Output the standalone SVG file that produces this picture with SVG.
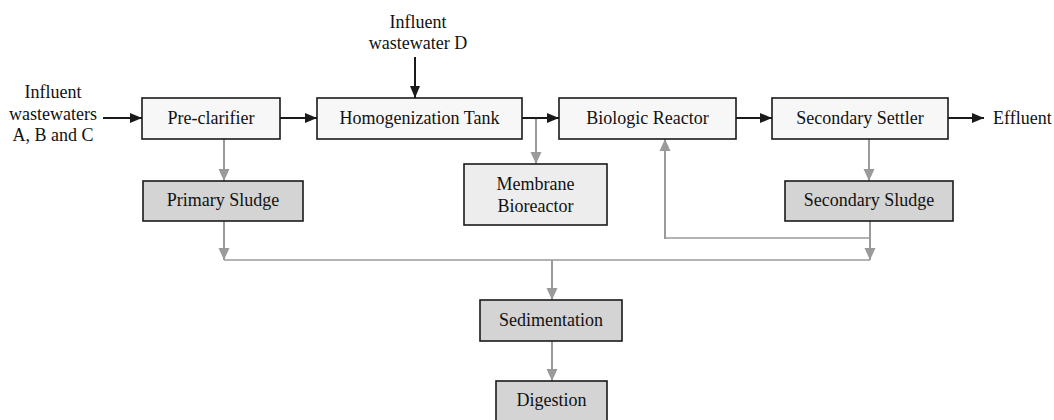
<svg xmlns="http://www.w3.org/2000/svg" width="1054" height="420" viewBox="0 0 1054 420">
<style>
text{font-family:"Liberation Serif","Times New Roman",serif;font-size:18px;fill:#111;text-anchor:middle}
.box{stroke:#1a1a1a;stroke-width:1.6}
.w{fill:#f7f7f7}
.g{fill:#d4d4d4}
.m{fill:#ededed}
.k{stroke:#1a1a1a;stroke-width:2;fill:none}
.gr{stroke:#9a9a9a;stroke-width:2;fill:none}
.grh{stroke:#9a9a9a;stroke-width:1.5;fill:none}
</style>
<defs>
<marker id="ak" markerWidth="12" markerHeight="12" refX="12" refY="6" orient="auto" markerUnits="userSpaceOnUse" viewBox="0 0 12 12"><path d="M0,1 L12,6 L0,11 Z" fill="#1a1a1a"/></marker>
<marker id="ag" markerWidth="12" markerHeight="12" refX="12" refY="6" orient="auto" markerUnits="userSpaceOnUse" viewBox="0 0 12 12"><path d="M0,0.5 L12,6 L0,11.5 Z" fill="#9a9a9a"/></marker>
</defs>
<rect width="1054" height="420" fill="#fff"/>
<g id="connectors">
<line class="k" x1="103" y1="118" x2="142" y2="118" marker-end="url(#ak)"/>
<line class="k" x1="280" y1="118" x2="317" y2="118" marker-end="url(#ak)"/>
<line class="k" x1="415" y1="57" x2="415" y2="98" marker-end="url(#ak)"/>
<line class="k" x1="522" y1="118" x2="559" y2="118" marker-end="url(#ak)"/>
<line class="k" x1="736" y1="118" x2="772" y2="118" marker-end="url(#ak)"/>
<line class="k" x1="948" y1="118" x2="984" y2="118" marker-end="url(#ak)"/>
<line class="gr" x1="224" y1="139" x2="224" y2="181" marker-end="url(#ag)"/>
<line class="gr" x1="536" y1="119" x2="536" y2="164" marker-end="url(#ag)"/>
<line class="gr" x1="869" y1="139" x2="869" y2="181" marker-end="url(#ag)"/>
<line class="gr" x1="224" y1="221" x2="224" y2="260" marker-end="url(#ag)"/>
<line class="gr" x1="870" y1="221" x2="870" y2="260" marker-end="url(#ag)"/>
<polyline class="grh" points="870,238 665,238"/>
<line class="gr" x1="665" y1="239" x2="665" y2="139" marker-end="url(#ag)"/>
<line class="grh" x1="224" y1="260" x2="870" y2="260"/>
<line class="gr" x1="552" y1="260" x2="552" y2="300" marker-end="url(#ag)"/>
<line class="gr" x1="552" y1="341" x2="552" y2="381" marker-end="url(#ag)"/>
</g>
<g id="influent-abc"><text x="53" y="98">Influent</text><text x="53" y="120">wastewaters</text><text x="53" y="141">A, B and C</text></g>
<g id="influent-d"><text x="418" y="28">Influent</text><text x="418" y="49">wastewater D</text></g>
<g id="effluent"><text x="993" y="124" style="text-anchor:start">Effluent</text></g>
<g id="preclarifier"><rect class="box w" x="142" y="98" width="138" height="41"/><text x="211" y="124">Pre-clarifier</text></g>
<g id="homogenization"><rect class="box w" x="317" y="98" width="205" height="41"/><text x="419.5" y="124">Homogenization Tank</text></g>
<g id="biologic"><rect class="box w" x="559" y="98" width="177" height="41"/><text x="647.5" y="124">Biologic Reactor</text></g>
<g id="settler"><rect class="box w" x="772" y="98" width="176" height="41"/><text x="860" y="124">Secondary Settler</text></g>
<g id="primary-sludge"><rect class="box g" x="143" y="181" width="160" height="40"/><text x="223" y="206">Primary Sludge</text></g>
<g id="membrane"><rect class="box m" x="464" y="164" width="143" height="61"/><text x="535.5" y="190">Membrane</text><text x="535.5" y="212">Bioreactor</text></g>
<g id="secondary-sludge"><rect class="box g" x="785" y="181" width="168" height="40"/><text x="869" y="206">Secondary Sludge</text></g>
<g id="sedimentation"><rect class="box g" x="480" y="300" width="142" height="41"/><text x="551" y="326">Sedimentation</text></g>
<g id="digestion"><rect class="box g" x="496" y="381" width="111" height="42"/><text x="551.5" y="406">Digestion</text></g>
</svg>
